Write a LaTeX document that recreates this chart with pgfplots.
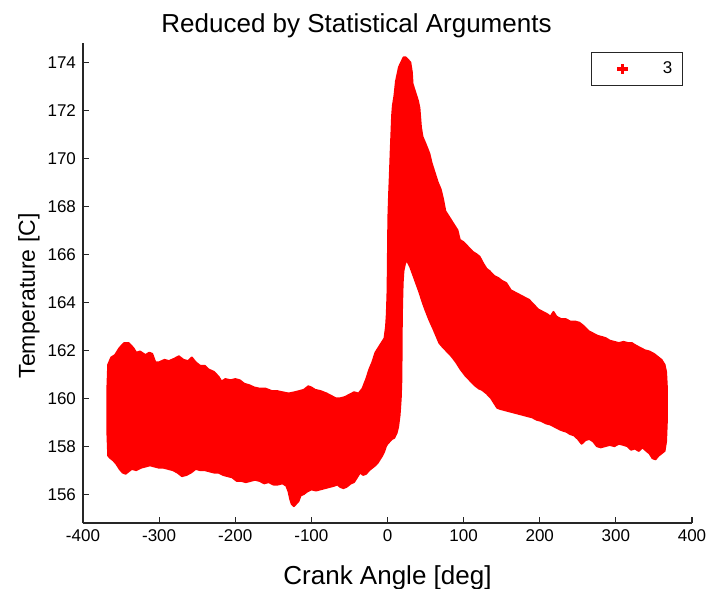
\documentclass[border=0pt]{standalone}
\usepackage{fontspec}
\setmainfont{Liberation Sans}
\usepackage{pgfplots}
\pgfplotsset{compat=1.18}
\begin{document}
\begin{tikzpicture}
\begin{axis}[
    name=ax,
    scale only axis,
    width=304.5pt, height=240pt,
    xmin=-400, xmax=400, ymin=154.8, ymax=174.8,
    axis lines=left,
    axis line style={-, black!85, line width=0.6pt},
    tick align=inside,
    major tick length=3pt,
    tick style={black!85, line width=0.6pt},
    xtick={-400,-300,...,400},
    ytick={156,158,...,174},
    ticklabel style={font=\fontsize{8.5}{10}\selectfont},
    /pgf/number format/assume math mode=true,
    title={Reduced by Statistical Arguments},
    title style={font=\fontsize{13}{15}\selectfont, at={(0.5,1)}, anchor=base, yshift=-1pt, xshift=-15.5pt},
    xlabel={Crank Angle [deg]},
    xlabel style={font=\fontsize{13}{15}\selectfont, at={(0.5,0)}, anchor=base, yshift=-30.5pt},
    ylabel={Temperature [C]},
    ylabel style={font=\fontsize{11.5}{14}\selectfont, at={(0,0.5)}, anchor=base, yshift=24pt, xshift=-6.5pt},
    legend style={at={(1,1)}, anchor=north east, xshift=-4.5pt, yshift=-4.5pt,
        draw=black!85, line width=0.6pt, inner xsep=3pt, inner ysep=2.5pt,
        font=\fontsize{8.5}{10}\selectfont},
    legend image code/.code={\path (0pt,0pt) (29pt,0pt); \draw[#1] plot coordinates {(11.5pt,0pt)};},
]
\addplot[fill=red, draw=red, line width=0.9pt, line join=round, forget plot] coordinates {
(-367,157.6) (-368,158.5) (-368,160.5) (-367,161.4) (-363,161.7) (-358,161.8) (-352,162.1)
(-346,162.3) (-340,162.3) (-334,162.1) (-330,161.9) (-325,161.95) (-318,161.8) (-313,161.9)
(-309,161.85) (-305,161.5) (-300,161.5) (-293,161.6) (-287,161.55) (-280,161.65) (-274,161.75)
(-268,161.6) (-262,161.55) (-257,161.7) (-252,161.5) (-246,161.35) (-240,161.35) (-235,161.2)
(-228,161.1) (-222,160.9) (-218,160.7) (-213,160.8) (-206,160.75) (-200,160.8) (-194,160.75)
(-188,160.6) (-182,160.55) (-175,160.45) (-168,160.4) (-160,160.4) (-152,160.3) (-145,160.3)
(-138,160.25) (-130,160.2) (-122,160.25) (-116,160.3) (-110,160.35) (-104,160.5) (-100,160.45)
(-95,160.35) (-88,160.3) (-80,160.2) (-74,160.1) (-68,160.0) (-62,160.0) (-56,160.05)
(-50,160.15) (-44,160.25) (-38,160.2) (-33,160.4) (-28,160.8) (-24,161.2) (-20,161.5)
(-16,161.9) (-12,162.1) (-8,162.3) (-4,162.5) (-2,163.0) (-1,163.5) (0,164.5) (0.5,166.0)
(1,167.5) (2,168.5) (3,169.3) (4,170.2) (5,171.0) (6,171.8) (7,172.2) (9,172.6) (11,173.2)
(13,173.5) (15,173.8) (18,174.0) (21,174.2) (24,174.2) (27,174.1) (30,174.0) (32,173.6)
(33,173.1) (36,172.8) (40,172.4) (42,172.1) (44,171.3) (46,170.9) (50,170.6) (55,170.2)
(58,169.8) (62,169.4) (66,169.0) (70,168.7) (73,168.3) (76,167.8) (80,167.6) (86,167.3)
(92,167.0) (95,166.6) (100,166.5) (106,166.3) (112,166.1) (117,166.0) (121,165.9) (126,165.6)
(130,165.4) (134,165.3) (140,165.1) (146,165.0) (150,164.9) (156,164.8) (162,164.5) (168,164.4)
(174,164.3) (180,164.2) (186,164.1) (192,163.9) (198,163.7) (204,163.6) (210,163.5) (214,163.4)
(218,163.6) (222,163.4) (228,163.3) (234,163.3) (240,163.2) (246,163.2) (252,163.15) (258,163.0)
(264,162.8) (270,162.7) (276,162.6) (282,162.55) (287,162.5) (292,162.4) (298,162.35) (304,162.3)
(310,162.35) (316,162.3) (321,162.3) (326,162.2) (332,162.1) (338,162.0) (344,161.95) (350,161.85)
(356,161.7) (360,161.6) (364,161.4) (366,161.1) (367,160.5) (367,159.0) (366,158.2) (364,157.8)
(360,157.7) (356,157.6) (352,157.45) (348,157.5) (344,157.7) (340,157.8) (335,157.95) (330,157.8)
(325,157.9) (320,157.85) (315,158.0) (310,158.05) (304,158.1) (298,158.0) (292,158.05) (286,158.0)
(280,157.95) (275,158.0) (270,158.2) (265,158.3) (260,158.25) (255,158.1) (250,158.3) (245,158.45)
(240,158.5) (235,158.6) (230,158.65) (226,158.7) (220,158.8) (214,158.9) (208,158.95) (202,159.05)
(196,159.1) (190,159.2) (184,159.25) (178,159.3) (172,159.35) (166,159.4) (160,159.45) (154,159.5)
(148,159.55) (144,159.6) (140,159.8) (136,160.0) (130,160.2) (124,160.35) (120,160.4) (114,160.55)
(108,160.75) (102,160.95) (96,161.2) (90,161.5) (84,161.75) (78,161.95) (72,162.15) (68,162.3)
(64,162.6) (60,162.9) (55,163.25) (50,163.65) (46,164.0) (42,164.4) (38,164.75) (34,165.1)
(30,165.45) (27,165.65) (25,165.75) (23,165.6) (21,165.3) (20,164.8) (19.5,164.2) (19,163.5)
(18.7,162.5) (18.5,161.5) (18.3,160.75) (17.5,160.0) (16,159.3) (14,158.8) (12,158.55) (9,158.35)
(6,158.3) (3,158.2) (0,158.1) (-2,158.0) (-4,157.8) (-7,157.6) (-10,157.45) (-13,157.3)
(-16,157.2) (-20,157.1) (-24,157.0) (-28,156.85) (-32,156.8) (-36,156.9) (-40,156.7) (-44,156.5)
(-48,156.45) (-54,156.3) (-58,156.25) (-62,156.3) (-66,156.4) (-70,156.35) (-76,156.3) (-82,156.25)
(-88,156.2) (-94,156.15) (-100,156.2) (-106,156.1) (-110,156.0) (-114,155.95) (-117,155.7) (-120,155.6)
(-123,155.5) (-126,155.6) (-128,155.8) (-130,156.1) (-133,156.35) (-138,156.45) (-144,156.4) (-150,156.4)
(-156,156.5) (-162,156.45) (-168,156.55) (-174,156.6) (-180,156.55) (-186,156.5) (-192,156.55) (-198,156.55)
(-204,156.7) (-210,156.75) (-216,156.8) (-222,156.9) (-228,156.9) (-234,156.95) (-240,157.0) (-246,157.0)
(-252,157.05) (-258,156.9) (-264,156.8) (-270,156.75) (-276,156.9) (-282,157.0) (-288,157.05) (-294,157.1)
(-300,157.1) (-306,157.15) (-312,157.2) (-318,157.15) (-324,157.1) (-330,157.0) (-336,157.05) (-340,156.95)
(-344,156.85) (-348,156.9) (-352,157.05) (-356,157.25) (-360,157.4) (-364,157.5)
} -- cycle;
\addlegendimage{only marks, mark=+, red, line width=1.6pt, mark size=2.6pt}
\addlegendentry{3}
\end{axis}
\pgfresetboundingbox
\path[use as bounding box] ([xshift=-41.5pt,yshift=-32.5pt]ax.south west) rectangle ([xshift=9.5pt,yshift=21.5pt]ax.north east);
\end{tikzpicture}
\end{document}
